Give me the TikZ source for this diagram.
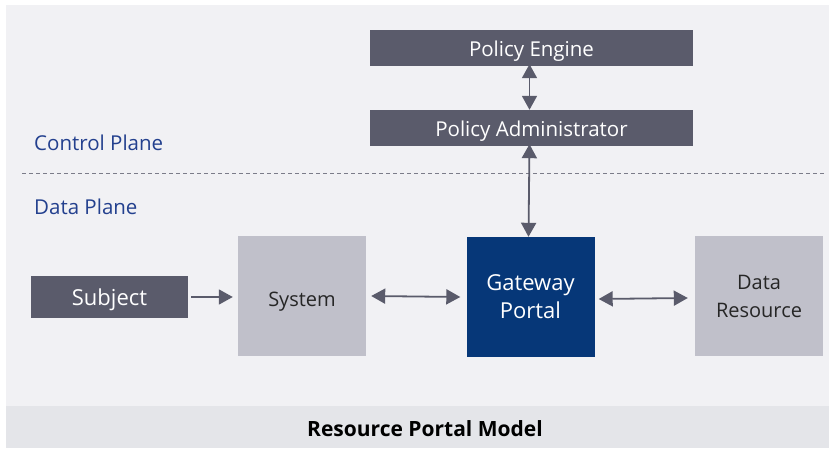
\documentclass[tikz,border=0pt]{standalone}
\usepackage{fontspec}
\setmainfont{Open Sans}
\usetikzlibrary{arrows.meta}
\definecolor{panelbg}{HTML}{F1F1F4}
\definecolor{bandbg}{HTML}{E4E5E9}
\definecolor{darkbox}{HTML}{5A5B6B}
\definecolor{lightbox}{HTML}{C0C0CA}
\definecolor{navybox}{HTML}{063778}
\definecolor{planeblue}{HTML}{23408E}
\definecolor{arrowgray}{HTML}{5A5B6B}
\tikzset{
  tip/.tip={Triangle[length=14pt,width=15pt]},
  darkbar/.style={fill=darkbox, text=white, inner sep=0pt, text height=19pt, text depth=2pt,
                  font=\fontsize{20.5}{24}\selectfont},
  sqbox/.style={minimum width=128pt, minimum height=120pt, inner sep=0pt, align=center,
                font=\fontsize{20}{28}\selectfont},
  conn/.style={draw=arrowgray, line width=1.8pt, -tip},
  biconn/.style={draw=arrowgray, line width=1.8pt, tip-tip},
  planelabel/.style={anchor=west, text=planeblue, font=\fontsize{20.5}{24}\selectfont, inner sep=0pt}
}
\begin{document}
\begin{tikzpicture}[x=1pt,y=-1pt]
  \useasboundingbox (0,0) rectangle (831,449);
  % background panel and caption band
  \fill[panelbg] (6,5) rectangle (829,406);
  \fill[bandbg] (6,406) rectangle (829,448);
  \node[font=\bfseries\fontsize{21}{24}\selectfont] (caption) at (425,429) {Resource Portal Model};

  % plane labels and separator
  \node[planelabel] (ctrl) at (34,143) {Control Plane};
  \node[planelabel] (data) at (34,207) {Data Plane};
  \coordinate (sepL) at (22,173.5);
  \coordinate (sepR) at (824,173.5);
  \draw[arrowgray!80, line width=0.9pt, dash pattern=on 4pt off 3pt] (sepL) -- (sepR);

  % control plane components
  \node[darkbar, minimum width=323pt, minimum height=36pt] (pe) at (531.5,48) {Policy Engine};
  \node[darkbar, minimum width=323pt, minimum height=36pt] (pa) at (531.5,128) {Policy Administrator};

  % data plane components
  \node[darkbar, minimum width=157pt, minimum height=42pt, font=\fontsize{22}{24}\selectfont] (subj) at (109.5,297) {Subject};
  \node[sqbox, fill=lightbox] (sys) at (302,296) {};
  \node[text=black!85, font=\fontsize{20}{24}\selectfont] (systxt) at (302,302) {System};
  \node[sqbox, fill=navybox, text=white, font=\fontsize{22}{28}\selectfont] (gw) at (530.5,297) {Gateway\\Portal};
  \node[sqbox, fill=lightbox, text=black!85] (dr) at (759,296) {Data\\Resource};

  % connectors
  \draw[biconn] ([xshift=-2pt,yshift=2pt]pe.south) -- ([xshift=-2pt]pa.north);
  \draw[biconn] ([xshift=-2pt,yshift=2pt]pa.south) -- ([xshift=-2pt]gw.north);
  \draw[conn] ([xshift=3pt]subj.east) -- ([xshift=-5pt]sys.west |- subj.east);
  \draw[biconn] ([xshift=5pt]sys.east) -- ([xshift=-6pt]gw.west);
  \draw[biconn] ([xshift=4pt,yshift=-2pt]gw.east) -- ([xshift=-7pt,yshift=-2pt]dr.west);
\end{tikzpicture}
\end{document}
